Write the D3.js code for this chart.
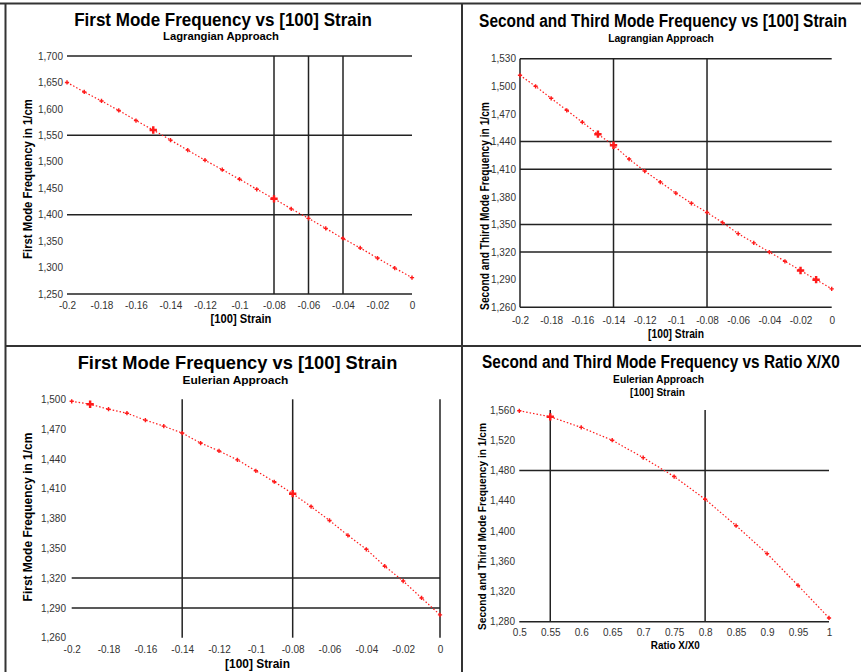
<!DOCTYPE html>
<html>
<head>
<meta charset="utf-8">
<script src="https://cdn.jsdelivr.net/npm/d3@7"></script>
<style>
body { margin: 0; background: #fff; }
svg text { font-family: "Liberation Sans", Arial, sans-serif; }
</style>
</head>
<body>
<svg id="chart" width="861" height="672"></svg>
<script>
// ---- data ----
const strain = [-0.2, -0.19, -0.18, -0.17, -0.16, -0.15, -0.14, -0.13, -0.12, -0.11, -0.1,
                -0.09, -0.08, -0.07, -0.06, -0.05, -0.04, -0.03, -0.02, -0.01, 0];
const strainTicks = [-0.2, -0.18, -0.16, -0.14, -0.12, -0.1, -0.08, -0.06, -0.04, -0.02, 0];

// Lagrangian, first mode
const lagFirst = [1650, 1632, 1615, 1597, 1578, 1560, 1541, 1522, 1503, 1485, 1467,
                  1448, 1430, 1411, 1393, 1374, 1355, 1337, 1318, 1299, 1281];
const lagFirstTicks = [1250, 1300, 1350, 1400, 1450, 1500, 1550, 1600, 1650, 1700];
const lagFirstGridY = [1250, 1400, 1550, 1700];
const lagFirstGridX = [-0.08, -0.06, -0.04];
const lagFirstBig = [-0.15, -0.08];

// Lagrangian, second and third mode
const lagSecond = [1512, 1500, 1487, 1474, 1461, 1448, 1436, 1421, 1408, 1396, 1384,
                   1373, 1363, 1352, 1340, 1330, 1320, 1310, 1300, 1290, 1280];
const lagSecondTicks = [1260, 1290, 1320, 1350, 1380, 1410, 1440, 1470, 1500, 1530];
const lagSecondGridY = [1260, 1320, 1350, 1410, 1440, 1530];
const lagSecondGridX = [-0.2, -0.14, -0.08];
const lagSecondBig = [-0.15, -0.14, -0.02, -0.01];

// Eulerian, first mode
const eulFirst = [1498, 1495, 1490, 1486, 1479, 1473, 1466, 1456, 1448, 1439, 1428,
                  1417, 1405, 1392, 1378, 1363, 1349, 1332, 1317, 1300, 1283];
const eulFirstTicks = [1260, 1290, 1320, 1350, 1380, 1410, 1440, 1470, 1500];
const eulFirstGridY = [1290, 1320];
const eulFirstGridX = [-0.14, -0.08, 0];
const eulFirstBig = [-0.19, -0.08];

// Eulerian, second and third mode vs ratio
const ratio = [0.5, 0.55, 0.6, 0.65, 0.7, 0.75, 0.8, 0.85, 0.9, 0.95, 1];
const eulSecond = [1559, 1551, 1537, 1520, 1497, 1472, 1442, 1407, 1370, 1328, 1285];
const eulSecondTicks = [1280, 1320, 1360, 1400, 1440, 1480, 1520, 1560];
const eulSecondGridY = [1280, 1480];
const eulSecondGridX = [0.55, 0.8];
const eulSecondBig = [0.55];

const svg = d3.select('#chart');
const numFmt = d => String(+d.toFixed(2));
const freqFmt = d3.format(',');

const panels = [
  {
    xs: strain, ys: lagFirst, xTicks: strainTicks, yTicks: lagFirstTicks,
    gridX: lagFirstGridX, gridY: lagFirstGridY, big: lagFirstBig,
    xDomain: [-0.2, 0], yDomain: [1250, 1700], xRange: [67, 412], yRange: [294, 56],
    xTickTop: 302, yTickX: 63,
    titles: [
      {text: 'First Mode Frequency vs [100] Strain', x: 223, y: 26, size: 18, len: 298, main: true},
      {text: 'Lagrangian Approach', x: 221, y: 39.5, size: 10, len: 116}
    ],
    yLabel: {text: 'First Mode Frequency in 1/cm', x: 32, y: 179, size: 12, len: 160},
    xLabel: {text: '[100] Strain', x: 241, y: 323, size: 12, len: 61}
  },
  {
    xs: strain, ys: lagSecond, xTicks: strainTicks, yTicks: lagSecondTicks,
    gridX: lagSecondGridX, gridY: lagSecondGridY, big: lagSecondBig,
    xDomain: [-0.2, 0], yDomain: [1260, 1530], xRange: [520, 831.7], yRange: [307.3, 58.7],
    xTickTop: 317, yTickX: 516,
    titles: [
      {text: 'Second and Third Mode Frequency vs [100] Strain', x: 663, y: 26.7, size: 18.5, len: 368, main: true},
      {text: 'Lagrangian Approach', x: 661, y: 41.5, size: 10, len: 106}
    ],
    yLabel: {text: 'Second and Third Mode Frequency in 1/cm', x: 488.5, y: 206, size: 12, len: 208},
    xLabel: {text: '[100] Strain', x: 676, y: 338, size: 12, len: 56}
  },
  {
    xs: strain, ys: eulFirst, xTicks: strainTicks, yTicks: eulFirstTicks,
    gridX: eulFirstGridX, gridY: eulFirstGridY, big: eulFirstBig,
    xDomain: [-0.2, 0], yDomain: [1260, 1500], xRange: [71.7, 440], yRange: [637.7, 399.3],
    xTickTop: 646, yTickX: 66,
    titles: [
      {text: 'First Mode Frequency vs [100] Strain', x: 237.5, y: 369, size: 19, len: 320, main: true},
      {text: 'Eulerian Approach', x: 235.5, y: 384, size: 10, len: 106}
    ],
    yLabel: {text: 'First Mode Frequency in 1/cm', x: 32, y: 517, size: 12, len: 169},
    xLabel: {text: '[100] Strain', x: 257.5, y: 668, size: 12, len: 65}
  },
  {
    xs: ratio, ys: eulSecond, xTicks: ratio, yTicks: eulSecondTicks,
    gridX: eulSecondGridX, gridY: eulSecondGridY, big: eulSecondBig,
    xDomain: [0.5, 1], yDomain: [1280, 1560], xRange: [519.3, 829], yRange: [621.7, 410],
    xTickTop: 629, yTickX: 515,
    titles: [
      {text: 'Second and Third Mode Frequency vs Ratio X/X0', x: 661, y: 368, size: 18.5, len: 358, main: true},
      {text: 'Eulerian Approach', x: 658.5, y: 383, size: 10, len: 91},
      {text: '[100] Strain', x: 657.5, y: 396, size: 10, len: 55}
    ],
    yLabel: {text: 'Second and Third Mode Frequency in 1/cm', x: 486, y: 526.5, size: 11, len: 207},
    xLabel: {text: 'Ratio X/X0', x: 675.3, y: 649, size: 11, len: 49}
  }
];

// outer frame and dividers
const frame = [
  [0, 3.5, 861, 3.5], [5.5, 3, 5.5, 672], [462, 3, 462, 672], [5, 346, 861, 346]
];
svg.selectAll('.frame').data(frame).enter().append('line')
  .attr('x1', d => d[0]).attr('y1', d => d[1]).attr('x2', d => d[2]).attr('y2', d => d[3])
  .attr('stroke', '#333').attr('stroke-width', 2);

panels.forEach(drawPanel);

// squeeze a bold label horizontally so it spans the same width as in the original
function fitText(g, t, rotate) {
  const el = g.append('text').text(t.text)
    .attr('text-anchor', 'middle')
    .attr('font-size', t.size)
    .attr('font-weight', 'bold')
    .attr('fill', t.main === false ? '#222' : '#000');
  const k = t.len / el.node().getComputedTextLength();
  el.attr('transform', `translate(${t.x},${t.y})${rotate ? ' rotate(-90)' : ''} scale(${k},1)`);
  return el;
}

function drawPanel(p) {
  const g = svg.append('g');
  const x = d3.scaleLinear().domain(p.xDomain).range(p.xRange);
  const y = d3.scaleLinear().domain(p.yDomain).range(p.yRange);

  g.selectAll('.hgrid').data(p.gridY).enter().append('line')
    .attr('x1', x(p.xDomain[0])).attr('x2', x(p.xDomain[1]))
    .attr('y1', d => y(d)).attr('y2', d => y(d))
    .attr('stroke', '#222').attr('stroke-width', 1.5);

  g.selectAll('.vgrid').data(p.gridX).enter().append('line')
    .attr('x1', d => x(d)).attr('x2', d => x(d))
    .attr('y1', y(p.yDomain[0])).attr('y2', y(p.yDomain[1]))
    .attr('stroke', '#222').attr('stroke-width', 1.5);

  const xAxis = d3.axisBottom(x).tickValues(p.xTicks).tickFormat(numFmt).tickSize(0).tickPadding(0);
  const xg = g.append('g').attr('transform', `translate(0,${p.xTickTop})`).call(xAxis);
  const yAxis = d3.axisLeft(y).tickValues(p.yTicks).tickFormat(freqFmt).tickSize(0).tickPadding(0);
  const yg = g.append('g').attr('transform', `translate(${p.yTickX},0)`).call(yAxis);
  [xg, yg].forEach(a => {
    a.select('.domain').remove();
    a.selectAll('text')
      .attr('font-family', '"Liberation Sans", Arial, sans-serif')
      .attr('font-size', 10).attr('fill', '#333');
  });

  const pts = p.xs.map((v, i) => [v, p.ys[i]]);
  const line = d3.line().x(d => x(d[0])).y(d => y(d[1]));
  g.append('path').datum(pts)
    .attr('d', line).attr('fill', 'none')
    .attr('stroke', '#ff1a1a').attr('stroke-width', 1.2)
    .attr('stroke-dasharray', '1.5,2');

  g.selectAll('.mark').data(pts).enter().append('path')
    .attr('transform', d => `translate(${x(d[0])},${y(d[1])})`)
    .attr('d', d => d3.symbol(d3.symbolCross, p.big.includes(d[0]) ? 30 : 10)())
    .attr('fill', '#ff1a1a');

  p.titles.forEach(t => fitText(g, t, false));
  fitText(g, p.yLabel, true);
  fitText(g, p.xLabel, false);
}
</script>
</body>
</html>
